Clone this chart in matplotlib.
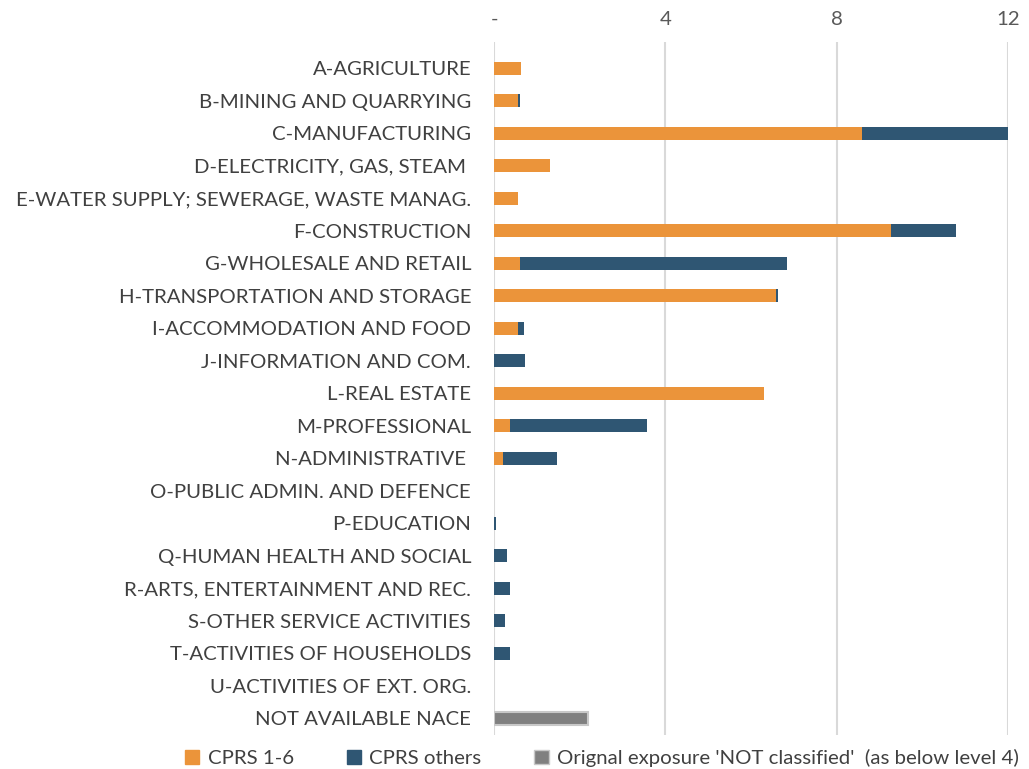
"""
Exposure by NACE sector split by CPRS category - horizontal stacked bars
"""

import numpy as np
import matplotlib
matplotlib.use("Agg")
import matplotlib.pyplot as plt
from matplotlib.patches import Patch

plt.rcParams['font.family'] = ['Lato', 'DejaVu Sans']

# data
sectors = [
    'A-AGRICULTURE', 'B-MINING AND QUARRYING', 'C-MANUFACTURING',
    'D-ELECTRICITY, GAS, STEAM ', 'E-WATER SUPPLY; SEWERAGE, WASTE MANAG.',
    'F-CONSTRUCTION', 'G-WHOLESALE AND RETAIL', 'H-TRANSPORTATION AND STORAGE',
    'I-ACCOMMODATION AND FOOD', 'J-INFORMATION AND COM.', 'L-REAL ESTATE',
    'M-PROFESSIONAL', 'N-ADMINISTRATIVE ', 'O-PUBLIC ADMIN. AND DEFENCE',
    'P-EDUCATION', 'Q-HUMAN HEALTH AND SOCIAL', 'R-ARTS, ENTERTAINMENT AND REC.',
    'S-OTHER SERVICE ACTIVITIES', 'T-ACTIVITIES OF HOUSEHOLDS',
    'U-ACTIVITIES OF EXT. ORG.', 'NOT AVAILABLE NACE',
]
cprs_1_6 = [0.63, 0.57, 8.59, 1.31, 0.55, 9.27, 0.61, 6.58, 0.55, 0.0, 6.30,
            0.38, 0.20, 0.0, 0.0, 0.0, 0.0, 0.0, 0.0, 0.0, 0.0]
cprs_others = [0.0, 0.03, 3.41, 0.0, 0.01, 1.51, 6.24, 0.06, 0.15, 0.73, 0.0,
               3.19, 1.26, 0.0, 0.04, 0.31, 0.37, 0.25, 0.37, 0.0, 0.0]
not_classified = [0.0] * 20 + [2.2]

xticks = [0, 4, 8, 12]
xtick_labels = ['-', '4', '8', '12']

ORANGE = '#eb943a'
BLUE = '#2f5673'
GRAY = '#808080'
TEXT = '#404040'

y = np.arange(len(sectors))
a = np.array(cprs_1_6)
b = np.array(cprs_others)
c = np.array(not_classified)

fig = plt.figure(figsize=(10.29, 7.69), dpi=100)
ax = fig.add_axes([494 / 1029, 34 / 769, 514 / 1029, 693 / 769])

ax.barh(y, a, height=0.4, color=ORANGE, zorder=3)
ax.barh(y, b, left=a, height=0.4, color=BLUE, zorder=3)
m = c > 0
ax.barh(y[m], c[m], left=(a + b)[m], height=0.4, color=GRAY, edgecolor='#c8c8c8',
        linewidth=1.5, zorder=3)

ax.set_xlim(0, 12)
ax.set_ylim(len(sectors) - 0.48, -0.8)
ax.set_yticks(y)
ax.set_yticklabels(sectors, fontsize=14.7, color=TEXT)
ax.set_xticks(xticks)
ax.set_xticklabels(xtick_labels, fontsize=14.7, color='#595959')
ax.xaxis.tick_top()
ax.tick_params(axis='both', length=0)
ax.tick_params(axis='x', pad=10)
ax.tick_params(axis='y', pad=16.5)
for s in ax.spines.values():
    s.set_visible(False)
ax.grid(True, axis='x', color='#d9d9d9', linewidth=1.5, zorder=0)

handles = [Patch(color=ORANGE), Patch(color=BLUE), Patch(facecolor=GRAY, edgecolor='#c8c8c8')]
labels = ['CPRS 1-6', 'CPRS others', "Orignal exposure 'NOT classified'  (as below level 4)"]
fig.legend(handles, labels, loc='center', bbox_to_anchor=(0.585, 0.014), ncol=3,
           frameon=False, fontsize=14.7, labelcolor=TEXT, handlelength=0.7,
           handleheight=0.7, handletextpad=0.4, columnspacing=2.6)

fig.savefig('out.png', dpi=100)
